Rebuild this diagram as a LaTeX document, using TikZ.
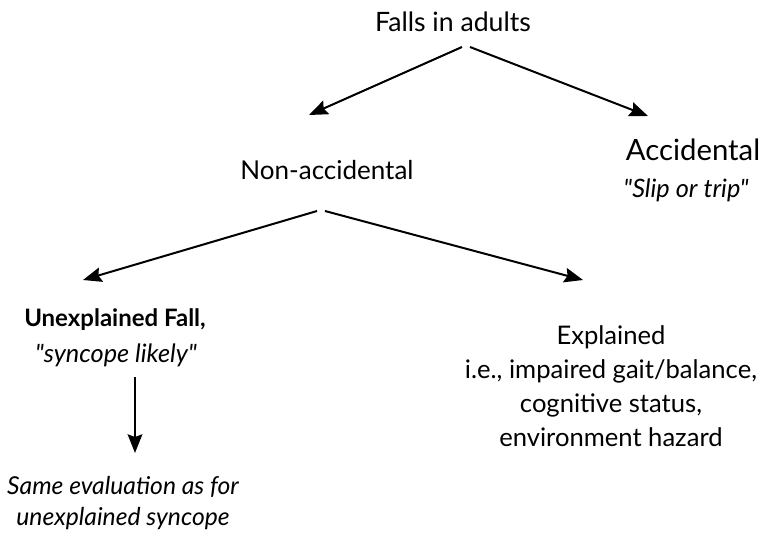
\documentclass[tikz,border=0pt]{standalone}
\usepackage{fontspec}
\setmainfont{Lato}[Ligatures=TeXOff]
\usetikzlibrary{arrows.meta}
\begin{document}
\begin{tikzpicture}[x=0.75pt,y=-0.75pt,
  lbl/.style={inner sep=0pt,align=center,font=\fontsize{19.5}{25.5}\selectfont},
  arr/.style={line width=1.5pt,-{Stealth[length=14pt,width=11pt,inset=2pt]}}]
\useasboundingbox (0,0) rectangle (768,539);
\node[lbl,font=\fontsize{20}{25}\selectfont] (falls) at (453,22) {Falls in adults};
\node[lbl] (nonacc) at (327,170) {Non-accidental};
\node[lbl,font=\fontsize{22}{25}\selectfont] (acc) at (693,150) {Accidental};
\node[lbl,font=\fontsize{19}{25}\selectfont\itshape] (slip) at (686,190) {"Slip or trip"};
\node[lbl,font=\fontsize{18}{25}\selectfont\bfseries] (unexp) at (115,320) {Unexplained Fall,};
\node[lbl,font=\fontsize{19}{25}\selectfont\itshape] (sync) at (116,355) {"syncope likely"};
\node[lbl,font=\fontsize{18.5}{23.3}\selectfont\itshape] (same) at (123,503) {Same evaluation as for\\unexplained syncope};
\node[lbl,font=\fontsize{19.2}{25.5}\selectfont] (expl) at (611,386) {Explained\\i.e., impaired gait/balance,\\cognitive status,\\environment hazard};
\coordinate (f1) at (462,47);
\coordinate (f2) at (470,47);
\coordinate (n1) at (317,211);
\coordinate (n2) at (325,211);
\coordinate (t1) at (309,115);
\coordinate (t2) at (648,116);
\coordinate (t3) at (83,280);
\coordinate (t4) at (583,280);
\coordinate (d1) at (135,377);
\coordinate (d2) at (135,453);
\draw[arr] (f1) -- (t1);
\draw[arr] (f2) -- (t2);
\draw[arr] (n1) -- (t3);
\draw[arr] (n2) -- (t4);
\draw[arr] (d1) -- (d2);
\end{tikzpicture}
\end{document}
